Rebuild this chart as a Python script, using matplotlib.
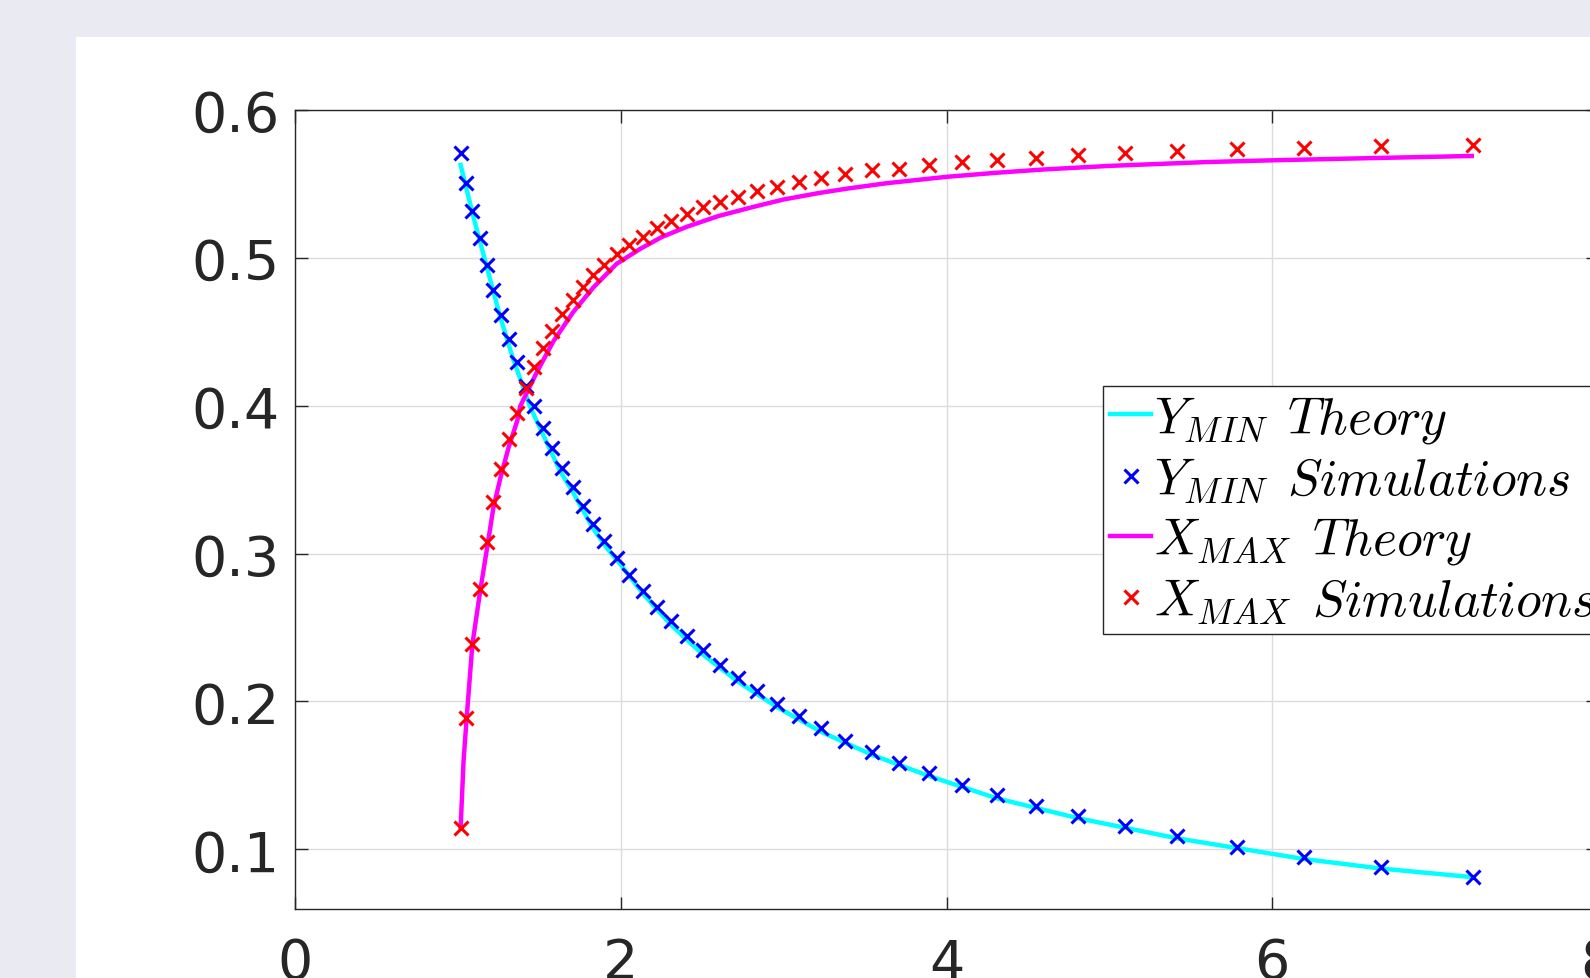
import matplotlib
matplotlib.use("Agg")
import matplotlib.pyplot as plt
from matplotlib.patches import Rectangle

# ---- data ----
x_sim = [1.017, 1.052, 1.089, 1.134, 1.180, 1.218, 1.266, 1.311, 1.363, 1.416,
         1.469, 1.525, 1.577, 1.641, 1.705, 1.767, 1.830, 1.897, 1.977, 2.051,
         2.139, 2.223, 2.311, 2.405, 2.502, 2.608, 2.718, 2.835, 2.962, 3.092,
         3.230, 3.377, 3.541, 3.711, 3.895, 4.094, 4.309, 4.548, 4.810, 5.097,
         5.414, 5.782, 6.192, 6.669, 7.230]
ymin_sim = [0.5707, 0.5509, 0.5318, 0.5133, 0.4953, 0.4784, 0.4615, 0.4451, 0.4293, 0.4135,
            0.3998, 0.3849, 0.3714, 0.3582, 0.3448, 0.3320, 0.3201, 0.3083, 0.2971, 0.2858,
            0.2750, 0.2640, 0.2543, 0.2442, 0.2345, 0.2250, 0.2160, 0.2070, 0.1985, 0.1905,
            0.1818, 0.1735, 0.1659, 0.1584, 0.1516, 0.1433, 0.1365, 0.1296, 0.1228, 0.1159,
            0.1091, 0.1018, 0.0950, 0.0883, 0.0816]
xmax_sim = [0.1146, 0.1889, 0.2387, 0.2761, 0.3079, 0.3349, 0.3574, 0.3777, 0.3951, 0.4120,
            0.4260, 0.4390, 0.4507, 0.4620, 0.4712, 0.4800, 0.4881, 0.4953, 0.5023, 0.5090,
            0.5144, 0.5205, 0.5252, 0.5297, 0.5343, 0.5381, 0.5415, 0.5449, 0.5482, 0.5512,
            0.5539, 0.5566, 0.5591, 0.5604, 0.5627, 0.5647, 0.5662, 0.5678, 0.5696, 0.5712,
            0.5723, 0.5734, 0.5745, 0.5757, 0.5764]

x_th_ymin = [1.017, 1.095, 1.177, 1.259, 1.341, 1.443, 1.504, 1.627, 1.709, 1.830,
             1.914, 2.000, 2.139, 2.311, 2.502, 2.718, 2.962, 3.230, 3.541, 3.895,
             4.309, 4.810, 5.414, 6.192, 6.669, 7.230]
ymin_th = [0.5628, 0.5279, 0.4941, 0.4604, 0.4311, 0.3995, 0.3849, 0.3560, 0.3410, 0.3170,
           0.3038, 0.2925, 0.2725, 0.2515, 0.2320, 0.2135, 0.1960, 0.1795, 0.1640, 0.1495,
           0.1345, 0.1210, 0.1075, 0.0935, 0.0870, 0.0812]

x_th_xmax = [1.017, 1.035, 1.054, 1.089, 1.136, 1.181, 1.218, 1.265, 1.312, 1.365,
             1.382, 1.484, 1.586, 1.709, 1.832, 1.975, 2.118, 2.250, 2.405, 2.600,
             2.815, 3.000, 3.224, 3.400, 3.633, 4.000, 4.300, 4.600, 5.000, 5.600,
             6.007, 6.621, 7.225]
xmax_th = [0.1150, 0.1600, 0.1890, 0.2385, 0.2740, 0.3050, 0.3310, 0.3530, 0.3720, 0.3900,
           0.3995, 0.4225, 0.4435, 0.4635, 0.4800, 0.4960, 0.5060, 0.5140, 0.5210, 0.5283,
           0.5345, 0.5395, 0.5440, 0.5470, 0.5505, 0.5548, 0.5575, 0.5598, 0.5622, 0.5648,
           0.5660, 0.5675, 0.5689]

labels = [r'$Y_{MIN}\:\:Theory$', r'$Y_{MIN}\:\:Simulations$',
          r'$X_{MAX}\:\:Theory$', r'$X_{MAX}\:\:Simulations$']
xticks = [0, 2, 4, 6, 8]
yticks = [0.1, 0.2, 0.3, 0.4, 0.5, 0.6]

plt.rcParams['mathtext.fontset'] = 'cm'
plt.rcParams['font.family'] = ['DejaVu Sans']

W, H = 1590, 979
fig = plt.figure(figsize=(W / 100, H / 100), dpi=100, facecolor='#EAEAF2')

# outer white panel
fig.add_artist(Rectangle((76 / W, 0), 1 - 76 / W, 1 - 38 / H,
                         transform=fig.transFigure, facecolor='white',
                         edgecolor='none', zorder=0))

ax = fig.add_axes([295 / W, 1 - 909.5 / H, 1303 / W, 798.5 / H])
ax.set_facecolor('white')

ax.plot(x_th_ymin, ymin_th, color='cyan', lw=3.2, label=labels[0], zorder=3)
ax.plot(x_sim, ymin_sim, ls='none', marker='x', color='blue', ms=10, mew=2.2,
        label=labels[1], zorder=4)
ax.plot(x_th_xmax, xmax_th, color='magenta', lw=3.2, label=labels[2], zorder=3)
ax.plot(x_sim, xmax_sim, ls='none', marker='x', color='red', ms=10, mew=2.2,
        label=labels[3], zorder=4)

ax.set_xlim(0, 8)
ax.set_ylim(0.06, 0.6)
ax.set_xticks(xticks)
ax.set_xticklabels([str(v) for v in xticks])
ax.set_yticks(yticks)
ax.set_yticklabels([f'{v:.1f}' for v in yticks])

ax.grid(True, color='#dcdcdc', lw=1.0, zorder=0)
ax.set_axisbelow(True)
for s in ax.spines.values():
    s.set_color('#262626')
    s.set_linewidth(1.0)
ax.tick_params(direction='in', length=9, width=1.0, color='#262626',
               top=True, right=True, labelsize=40, labelcolor='#262626')
ax.tick_params(axis='x', pad=20)
ax.tick_params(axis='y', pad=11)

leg = ax.legend(loc='upper left', bbox_to_anchor=(1102.7 / W, 1 - 386.7 / H),
                bbox_transform=fig.transFigure, fontsize=37.2, frameon=True,
                fancybox=False, framealpha=1, edgecolor='#262626',
                handlelength=0.78, handletextpad=0.06, borderpad=0.15,
                labelspacing=0.19, borderaxespad=0, markerscale=1.0)
leg.get_frame().set_linewidth(1.0)
for t in leg.get_texts():
    t.set_color('black')

fig.savefig('out.png', dpi=100, facecolor=fig.get_facecolor())
